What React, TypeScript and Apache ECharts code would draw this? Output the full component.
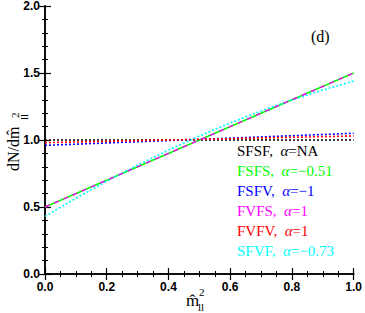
import React, { useEffect, useRef } from "react";
import * as echarts from "echarts";

const xEnds = [0, 1];
const sfsfVals = [1.0, 1.0];
const fsfsVals = [0.5, 1.5];
const fsfvVals = [0.96, 1.05];
const fvfsVals = [0.5, 1.5];
const fvfvVals = [0.98, 1.03];
const xFine = [0, 0.1, 0.2, 0.3, 0.4, 0.5, 0.6, 0.7, 0.8, 0.9, 1.0];
const sfvfVals = [0.43, 0.565, 0.693, 0.813, 0.925, 1.03, 1.127, 1.217, 1.299, 1.373, 1.44];

const legendNames = ["SFSF", "FSFS", "FSFV", "FVFS", "FVFV", "SFVF"];
const legendAlphas = ["NA", "\u22120.51", "\u22121", "1", "1", "\u22120.73"];
const colors = ["#000000", "#00ff00", "#0000ff", "#ff00ff", "#ff0000", "#00ffff"];

const pairs = (xs: number[], ys: number[]) => xs.map((x, i) => [x, ys[i]]);

const SERIF = "'Liberation Serif', 'Times New Roman', serif";
const SANS = "'Liberation Sans', Arial, sans-serif";

export default function App() {
  const ref = useRef<HTMLDivElement>(null);
  useEffect(() => {
    if (!ref.current) return;
    const chart = echarts.init(ref.current, null, { renderer: "svg" });
    const axisLine = { show: true, lineStyle: { color: "#000", width: 1.5 } };
    const tick = { show: true, inside: true, length: 6, lineStyle: { color: "#000", width: 1.2 } };
    const minorTick = { show: true, length: 3, lineStyle: { color: "#000", width: 1 } };
    const lineSeries = (name: string, data: number[][], color: string, type: any, width: number, z: number) => ({
      name,
      type: "line",
      data,
      showSymbol: false,
      symbol: "none",
      z,
      lineStyle: { color, type, width },
    });
    const legendTexts = legendNames.map((n, i) => ({
      type: "text",
      left: 237,
      top: 143 + i * 20,
      style: {
        text: n + ",  {a|\u03b1}=" + legendAlphas[i],
        fill: colors[i],
        font: "15px " + SERIF,
        rich: { a: { fill: colors[i], fontStyle: "italic", fontFamily: "Liberation Serif", fontSize: 15 } },
      },
    }));
    const R = Math.PI / 2;
    chart.setOption({
      animation: false,
      grid: { left: 45, right: 9, top: 4, bottom: 39 },
      xAxis: [
        {
          type: "value", min: 0, max: 1, interval: 0.2,
          axisLine, axisTick: tick, minorTick: { ...minorTick, splitNumber: 4 },
          splitLine: { show: false },
          axisLabel: { color: "#000", fontFamily: SANS, fontWeight: "bold", fontSize: 12, margin: 7, formatter: (v: number) => v.toFixed(1) },
        },
        {
          type: "value", position: "top", min: 0, max: 1, interval: 0.2,
          axisLine, axisTick: tick, minorTick: { ...minorTick, splitNumber: 4 },
          splitLine: { show: false }, axisLabel: { show: false },
        },
      ],
      yAxis: [
        {
          type: "value", min: 0, max: 2, interval: 0.5,
          axisLine, axisTick: tick, minorTick: { ...minorTick, splitNumber: 5 },
          splitLine: { show: false },
          axisLabel: { color: "#000", fontFamily: SANS, fontWeight: "bold", fontSize: 12, margin: 5, formatter: (v: number) => v.toFixed(1) },
        },
        {
          type: "value", position: "right", min: 0, max: 2, interval: 0.5,
          axisLine, axisTick: tick, minorTick: { ...minorTick, splitNumber: 5 },
          splitLine: { show: false }, axisLabel: { show: false },
        },
      ],
      series: [
        lineSeries("SFSF", pairs(xEnds, sfsfVals), colors[0], [2, 2], 1.6, 2),
        lineSeries("FSFS", pairs(xEnds, fsfsVals), colors[1], "solid", 1.4, 2),
        lineSeries("FSFV", pairs(xEnds, fsfvVals), colors[2], [2, 2], 1.6, 2),
        lineSeries("FVFS", pairs(xEnds, fvfsVals), colors[3], [5, 5], 1.4, 3),
        lineSeries("FVFV", pairs(xEnds, fvfvVals), colors[4], [2, 2], 1.6, 2),
        lineSeries("SFVF", pairs(xFine, sfvfVals), colors[5], [2, 2], 1.6, 2),
      ],
      graphic: [
        ...legendTexts,
        {
          type: "text", left: 311, top: 28,
          style: { text: "(d)", fill: "#000", font: "16px " + SERIF },
        },
        // x axis title
        { type: "text", left: 186, top: 292, style: { text: "m\u0302", fill: "#000", font: "17px " + SERIF } },
        { type: "text", left: 199, top: 286, style: { text: "2", fill: "#000", font: "11px " + SERIF } },
        { type: "text", left: 198, top: 301, style: { text: "ll", fill: "#000", font: "11px " + SERIF } },
        // y axis title (rotated)
        { type: "text", x: 5, y: 171, rotation: R, style: { text: "dN/dm\u0302", fill: "#000", font: "16px " + SERIF } },
        { type: "text", x: 9, y: 118, rotation: R, style: { text: "2", fill: "#000", font: "11px " + SERIF } },
        { type: "text", x: 18, y: 120, rotation: R, style: { text: "ll", fill: "#000", font: "11px " + SERIF } },
      ],
    });
    return () => chart.dispose();
  }, []);
  return <div ref={ref} style={{ width: 365, height: 313, position: "absolute", left: 0, top: 0 }} />;
}
